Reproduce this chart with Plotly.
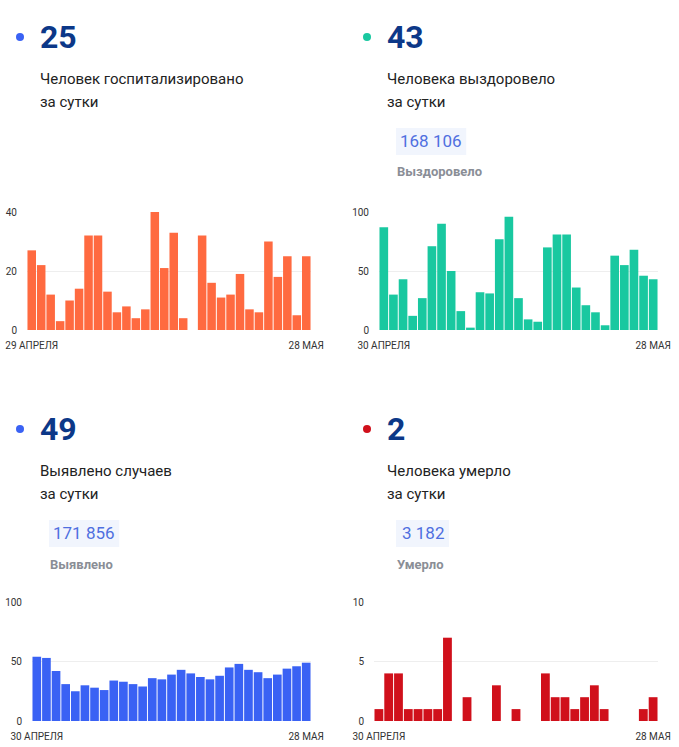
import plotly.graph_objects as go

W, H = 679, 747

# ---------------- data ----------------
hosp_dates = ["29.04", "30.04", "01.05", "02.05", "03.05", "04.05", "05.05", "06.05", "07.05", "08.05",
              "09.05", "10.05", "11.05", "12.05", "13.05", "14.05", "15.05", "16.05", "17.05", "18.05",
              "19.05", "20.05", "21.05", "22.05", "23.05", "24.05", "25.05", "26.05", "27.05", "28.05"]
hosp_values = [27, 22, 12, 3, 10, 14, 32, 32, 13, 6, 8, 4, 7, 40, 21, 33, 4, None,
               32, 16, 11, 12, 19, 7, 6, 30, 18, 25, 5, 25]

dates_29 = ["30.04", "01.05", "02.05", "03.05", "04.05", "05.05", "06.05", "07.05", "08.05",
            "09.05", "10.05", "11.05", "12.05", "13.05", "14.05", "15.05", "16.05", "17.05", "18.05",
            "19.05", "20.05", "21.05", "22.05", "23.05", "24.05", "25.05", "26.05", "27.05", "28.05"]
recovered_values = [87, 30, 43, 12, 27, 71, 90, 50, 16, 2, 32, 31, 77, 96, 27, 9, 7,
                    70, 81, 81, 36, 21, 15, 4, 63, 55, 68, 46, 43]
cases_values = [54, 53, 42, 31, 25, 30, 28, 26, 34, 33, 31, 29, 36, 35, 39, 43, 40,
                37, 35, 38, 45, 48, 43, 41, 36, 39, 44, 46, 49]
deaths_values = [1, 4, 4, 1, 1, 1, 1, 7, 0, 2, 0, 0, 3, 0, 1, 0, 0,
                 4, 2, 2, 1, 2, 3, 1, 0, 0, 0, 1, 2]

hosp_ticks = ["29 АПРЕЛЯ", "28 МАЯ"]
other_ticks = ["30 АПРЕЛЯ", "28 МАЯ"]

big_numbers = ["25", "43", "49", "2"]
captions = [["Человек госпитализировано", "за сутки"],
            ["Человека выздоровело", "за сутки"],
            ["Выявлено случаев", "за сутки"],
            ["Человека умерло", "за сутки"]]
totals = [None, "168 106", "171 856", "3 182"]
total_labels = [None, "Выздоровело", "Выявлено", "Умерло"]

# ---------------- style ----------------
ORANGE = "#ff6a40"
GREEN = "#19c8a0"
BLUE = "#3a62f4"
RED = "#d0101b"
NAVY = "#0c3888"
FONT = "Roboto"


def px(x):
    return x / W


def py(y):
    return 1 - y / H


fig = go.Figure()

panels = [
    # dates, values, color, ticktext, xpix range, ypix (top, bottom), yrange, dtick
    (hosp_dates, hosp_values, ORANGE, hosp_ticks, (27, 311), (212, 330), 40, 20),
    (dates_29, recovered_values, GREEN, other_ticks, (379, 658), (212, 330), 100, 50),
    (dates_29, cases_values, BLUE, other_ticks, (32, 311), (602, 721), 100, 50),
    (dates_29, deaths_values, RED, other_ticks, (374, 658), (602, 721), 10, 5),
]

layout_axes = {}
for i, (xs, ys, col, tt, (x0, x1), (yt, yb), ymax, dt) in enumerate(panels):
    n = i + 1
    xa = "x" if n == 1 else f"x{n}"
    ya = "y" if n == 1 else f"y{n}"
    fig.add_trace(go.Bar(x=xs, y=ys, marker=dict(color=col, line=dict(width=0)),
                         xaxis=xa, yaxis=ya, hoverinfo="x+y", showlegend=False))
    xkey = "xaxis" if n == 1 else f"xaxis{n}"
    ykey = "yaxis" if n == 1 else f"yaxis{n}"
    layout_axes[xkey] = dict(
        domain=[px(x0), px(x1)], anchor=ya, type="category",
        tickmode="array", tickvals=[xs[0], xs[-1]], ticktext=tt,
        showgrid=False, zeroline=False, showline=False, ticks="",
        ticklabelstandoff=8, automargin=False,
        tickfont=dict(family=FONT, size=10, color="#333333"),
        range=[-0.5, len(xs) - 0.5], fixedrange=True,
    )
    layout_axes[ykey] = dict(
        domain=[py(yb), py(yt)], anchor=xa,
        range=[0, ymax], tickmode="array", tickvals=[0, dt, ymax],
        showgrid=True, gridcolor="#eeeeee", gridwidth=1,
        zeroline=False, showline=False, ticks="",
        ticklabelstandoff=9, automargin=False,
        tickfont=dict(family=FONT, size=10, color="#333333"),
        fixedrange=True,
    )

fig.update_layout(**layout_axes)

annotations = []
shapes = []

# header blocks: (dot x, text x, base y)
headers = [
    (20, 40, 0, BLUE),
    (367, 387, 0, GREEN),
    (20, 40, 392, BLUE),
    (367, 387, 392, RED),
]
for i, (dx, tx, oy, dcol) in enumerate(headers):
    r = 4
    shapes.append(dict(type="circle", xref="paper", yref="paper",
                       x0=px(dx - r), x1=px(dx + r), y0=py(oy + 37 + r), y1=py(oy + 37 - r),
                       fillcolor=dcol, line=dict(width=0)))
    annotations.append(dict(text=f"<b>{big_numbers[i]}</b>", x=px(tx - 2), y=py(oy + 37),
                            xref="paper", yref="paper", xanchor="left", yanchor="middle",
                            showarrow=False, font=dict(family=FONT, size=32, color=NAVY)))
    for j, line in enumerate(captions[i]):
        annotations.append(dict(text=line, x=px(tx - 2), y=py(oy + 79 + 23 * j),
                                xref="paper", yref="paper", xanchor="left", yanchor="middle",
                                showarrow=False, font=dict(family=FONT, size=15, color="#222222")))
    if totals[i]:
        bx0 = tx + 9
        bw = 10 + len(totals[i]) * 8.6
        shapes.append(dict(type="rect", xref="paper", yref="paper",
                           x0=px(bx0), x1=px(bx0 + bw), y0=py(oy + 155), y1=py(oy + 128),
                           fillcolor="#f1f5fd", line=dict(width=0), layer="below"))
        annotations.append(dict(text=totals[i], x=px(bx0 + bw / 2), y=py(oy + 141),
                                xref="paper", yref="paper", xanchor="center", yanchor="middle",
                                showarrow=False, font=dict(family=FONT, size=17, color="#4f6fe0")))
        annotations.append(dict(text=f"<b>{total_labels[i]}</b>", x=px(bx0 - 1), y=py(oy + 172),
                                xref="paper", yref="paper", xanchor="left", yanchor="middle",
                                showarrow=False, font=dict(family=FONT, size=13, color="#8a8e96")))

fig.update_layout(
    width=W, height=H,
    margin=dict(l=0, r=0, t=0, b=0, autoexpand=False),
    paper_bgcolor="white", plot_bgcolor="white",
    bargap=0.1,
    annotations=annotations, shapes=shapes,
    showlegend=False,
    font=dict(family=FONT),
)

# remove the browser's default 8px page margin so the figure fills the window exactly
fig.write_html("out.html",
               config={"displayModeBar": False},
               post_script="document.body.style.margin='0';document.body.style.padding='0';"
                           "document.body.style.overflow='hidden';")
